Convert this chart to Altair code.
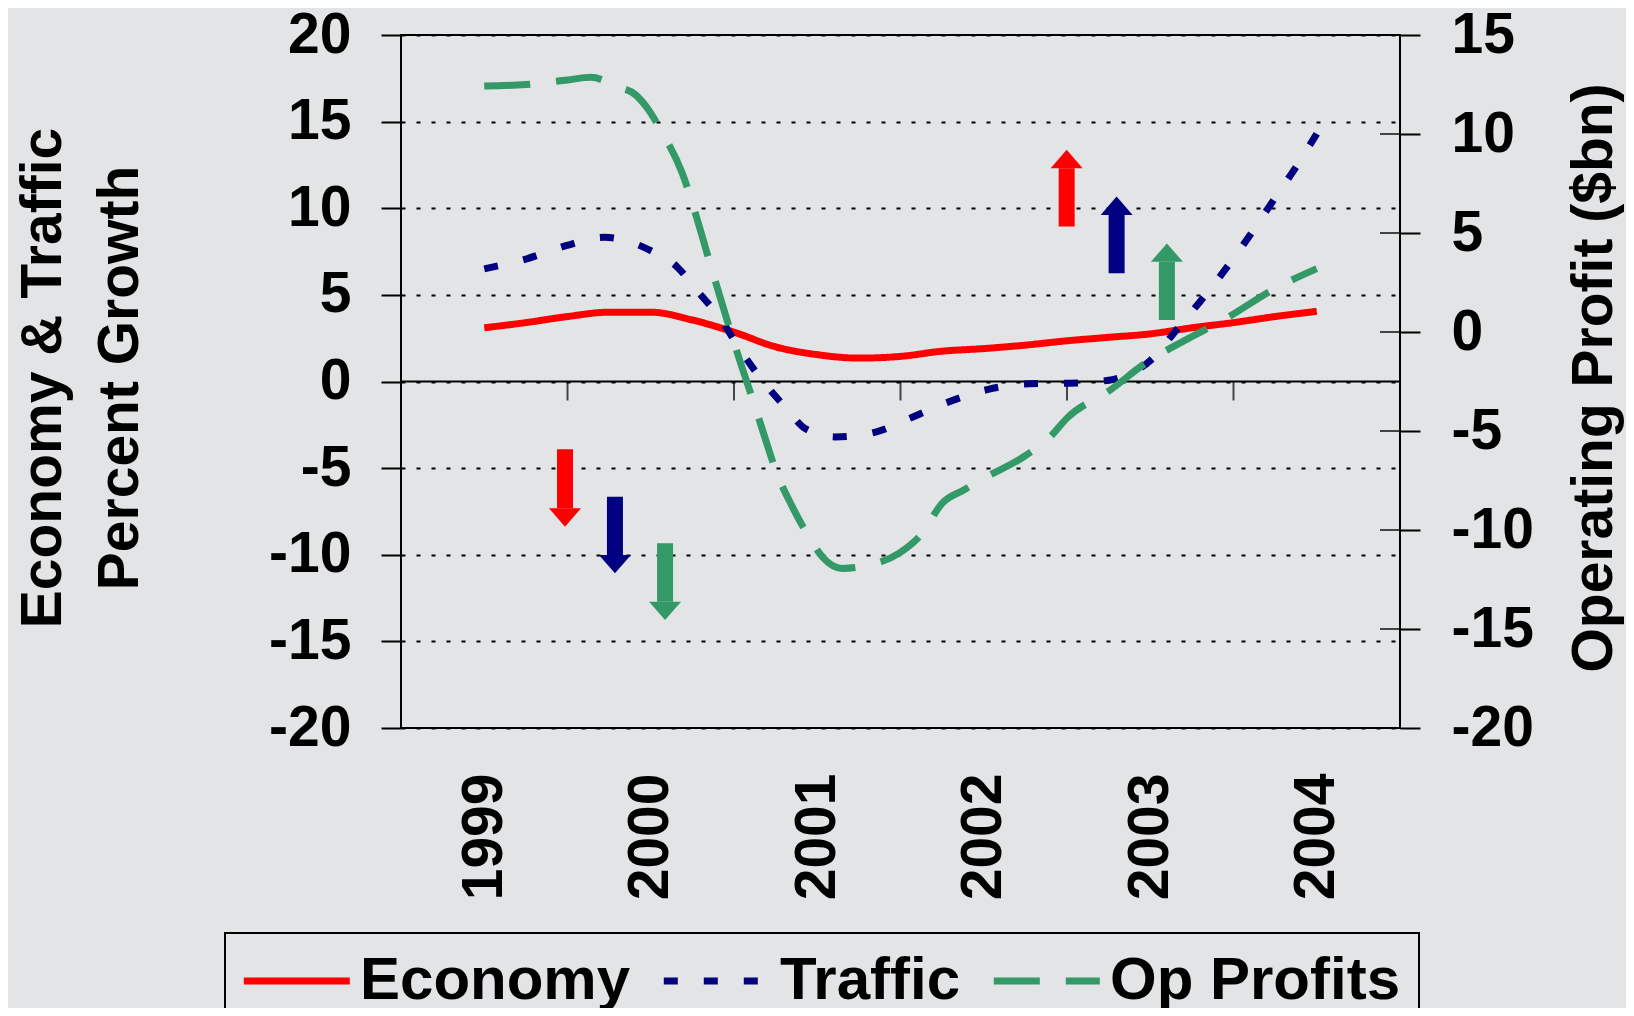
import altair as alt
import pandas as pd

# ---------------- data ----------------
ECON_YEARS = [1999.0, 1999.25, 1999.5, 1999.75, 2000.0, 2000.25, 2000.5, 2000.75,
              2001.0, 2001.25, 2001.5, 2001.75, 2002.0, 2002.25, 2002.5, 2002.75,
              2003.0, 2003.25, 2003.5, 2003.75, 2004.0]
ECONOMY = [3.1, 3.4, 3.75, 4.0, 4.0, 3.55, 2.85, 2.0, 1.55, 1.35, 1.45, 1.75,
           1.9, 2.1, 2.35, 2.55, 2.75, 3.1, 3.4, 3.75, 4.05]

TRAFFIC_YEARS = [1999.0, 1999.25, 1999.49, 1999.72, 1999.91, 2000.0, 2000.16, 2000.27,
                 2000.42, 2000.54, 2000.67, 2000.81, 2000.93, 2001.11, 2001.35, 2001.55,
                 2001.77, 2002.02, 2002.27, 2002.51, 2002.74, 2003.0, 2003.17, 2003.32,
                 2003.5, 2003.75, 2003.87, 2004.0]
TRAFFIC = [6.5, 7.07, 7.84, 8.32, 7.94, 7.55, 6.6, 5.34, 3.6, 1.79, 0.06, -1.5,
           -2.73, -3.2, -2.92, -2.15, -1.25, -0.47, -0.13, -0.1, 0.06, 1.21, 3.13,
           4.86, 7.1, 10.6, 12.3, 14.3]

PROFIT_YEARS = [1999.0, 1999.25, 1999.5, 1999.64, 1999.8, 1999.91, 1999.98, 2000.06,
                2000.19, 2000.28, 2000.35, 2000.44, 2000.54, 2000.62, 2000.69, 2000.75,
                2000.85, 2000.95, 2001.03, 2001.15, 2001.31, 2001.49, 2001.63, 2001.75,
                2001.88, 2002.0, 2002.24, 2002.4, 2002.5, 2002.76, 2002.97, 2003.23,
                2003.44, 2003.75, 2004.0]
OP_PROFITS = [12.42, 12.5, 12.73, 12.86, 12.39, 11.97, 11.3, 10.2, 8.0, 5.66, 3.64,
              1.11, -1.58, -3.6, -5.45, -6.97, -8.82, -10.34, -11.35, -11.94, -11.77,
              -11.18, -10.17, -8.65, -7.98, -7.39, -6.3, -5.29, -4.35, -2.93, -1.58,
              -0.32, 0.61, 2.2, 3.2]

SERIES = ["Economy", "Traffic", "Op Profits"]
COLORS = ["#ff0000", "#000080", "#339966"]
DASHES = [[1, 0], [14, 26], [46, 26]]

YEAR_LABELS = [1999, 2000, 2001, 2002, 2003, 2004]
X_TICKS = [1999.5, 2000.5, 2001.5, 2002.5, 2003.5]
LEFT_TICKS = [-20, -15, -10, -5, 0, 5, 10, 15, 20]
RIGHT_TICKS = [-20, -15, -10, -5, 0, 5, 10, 15]

# arrows (left-axis units): series, x, shaft start, head base, direction
ARROW_SERIES = ["Economy", "Traffic", "Op Profits", "Economy", "Traffic", "Op Profits"]
ARROW_X = [1999.485, 1999.785, 2000.086, 2002.498, 2002.798, 2003.10]
ARROW_START = [-3.91, -6.65, -9.34, 8.94, 6.25, 3.55]
ARROW_BASE = [-7.32, -10.01, -12.71, 12.31, 9.61, 6.91]
ARROW_DIR = ["down", "down", "down", "up", "up", "up"]

BG = "#e3e4e6"
FONT = "Liberation Sans"
FS = 57

# ---------------- tables ----------------
left_df = pd.DataFrame({
    "year": ECON_YEARS + TRAFFIC_YEARS,
    "value": ECONOMY + TRAFFIC,
    "series": ["Economy"] * len(ECON_YEARS) + ["Traffic"] * len(TRAFFIC_YEARS),
})
right_df = pd.DataFrame({"year": PROFIT_YEARS, "value": OP_PROFITS,
                         "series": ["Op Profits"] * len(PROFIT_YEARS)})
arrows_df = pd.DataFrame({"series": ARROW_SERIES, "x": ARROW_X,
                          "start": ARROW_START, "base": ARROW_BASE,
                          "dir": ARROW_DIR})

x_scale = alt.Scale(domain=[1998.5, 2004.5], nice=False, zero=False)
left_scale = alt.Scale(domain=[-20, 20], nice=False, zero=False)
right_scale = alt.Scale(domain=[-20, 15], nice=False, zero=False)
color_scale = alt.Scale(domain=SERIES, range=COLORS)
dash_scale = alt.Scale(domain=SERIES, range=DASHES)

legend = alt.Legend(
    orient="none", legendX=-176, legendY=898, direction="horizontal",
    columns=3, title=None, symbolType="M-1,0L4,0", symbolSize=1798,
    symbolStrokeWidth=7, symbolOffset=-8, labelFont=FONT, labelFontSize=60,
    labelFontWeight="bold", labelColor="black", labelOffset=65,
    columnPadding=18, padding=18, strokeColor="black", fillColor=BG,
    labelLimit=0,
)

x_axis = alt.Axis(
    values=YEAR_LABELS, labelExpr="'' + datum.value", labelAngle=270,
    labelFont=FONT, labelFontSize=FS, labelFontWeight="bold", labelColor="black",
    labelPadding=45, ticks=False, tickSize=0, domain=False, grid=False,
    title=None, labelFlush=False, labelOverlap=False,
)
left_axis = alt.Axis(
    values=LEFT_TICKS, labelExpr="'' + datum.value",
    labelFont=FONT, labelFontSize=FS, labelFontWeight="bold", labelColor="black",
    labelPadding=30, tickSize=20, tickWidth=2, tickColor="black",
    domain=False, grid=True, gridColor="black", gridDash=[4, 11], gridWidth=2,
    labelFlush=False, labelOverlap=False,
    title=["Economy & Traffic", "Percent Growth"], titleFont=FONT,
    titleFontSize=FS, titleFontWeight="bold", titleColor="black",
    titleAngle=270, titleX=-341, titleY=342.5, titleAlign="center",
    titleBaseline="alphabetic", titleLineHeight=77,
)
right_axis = alt.Axis(
    orient="right", values=RIGHT_TICKS, labelExpr="'' + datum.value",
    labelFont=FONT, labelFontSize=FS, labelFontWeight="bold", labelColor="black",
    labelPadding=31, tickSize=20, tickWidth=2, tickColor="black",
    domain=False, grid=False, labelFlush=False, labelOverlap=False,
    title="Operating Profit ($bn)", titleFont=FONT, titleFontSize=FS,
    titleFontWeight="bold", titleColor="black", titleAngle=270,
    titleX=211, titleY=342.5, titleAlign="center", titleBaseline="alphabetic",
)

X = lambda f: alt.X(f, scale=x_scale, axis=x_axis)
YL = lambda f: alt.Y(f, scale=left_scale, axis=left_axis)
YR = lambda f: alt.Y(f, scale=right_scale, axis=right_axis)

# ---------------- left group ----------------
zero_rule = alt.Chart(pd.DataFrame({"z": [0]})).mark_rule(
    color="black", strokeWidth=2
).encode(y=YL("z:Q"))

x_ticks = alt.Chart(pd.DataFrame({"year": X_TICKS, "z": [0] * len(X_TICKS)})).mark_tick(
    orient="vertical", size=19, thickness=2, color="black", yOffset=9.5
).encode(x=X("year:Q"), y=YL("z:Q"))

lines_left = alt.Chart(left_df).mark_line(
    interpolate="monotone", strokeWidth=7
).encode(
    x=X("year:Q"),
    y=YL("value:Q"),
    color=alt.Color("series:N", scale=color_scale, legend=legend),
    strokeDash=alt.StrokeDash("series:N", scale=dash_scale, legend=legend),
)

arrow_layers = []
for i in range(len(ARROW_X)):
    c = COLORS[SERIES.index(ARROW_SERIES[i])]
    row = arrows_df.iloc[[i]]
    path = "M-1,0L1,0L0,1.15Z" if ARROW_DIR[i] == "down" else "M-1,0L1,0L0,-1.15Z"
    shaft = alt.Chart(row).mark_rule(color=c, strokeWidth=16).encode(
        x=X("x:Q"), y=YL("start:Q"), y2="base:Q",
    )
    head = alt.Chart(row).mark_point(
        shape=path, size=1024, filled=True, opacity=1, color=c, strokeWidth=0
    ).encode(x=X("x:Q"), y=YL("base:Q"))
    arrow_layers += [shaft, head]

left_group = alt.layer(zero_rule, x_ticks, lines_left, *arrow_layers)

# ---------------- right group ----------------
inner_ticks = alt.Chart(pd.DataFrame({"v": RIGHT_TICKS})).mark_tick(
    orient="horizontal", size=20, thickness=2, color="black"
).encode(y=YR("v:Q"), x=alt.value(989))

line_right = alt.Chart(right_df).mark_line(
    interpolate="monotone", strokeWidth=7
).encode(
    x=X("year:Q"),
    y=YR("value:Q"),
    color=alt.Color("series:N", scale=color_scale, legend=legend),
    strokeDash=alt.StrokeDash("series:N", scale=dash_scale, legend=legend),
)
right_group = alt.layer(inner_ticks, line_right)

chart = alt.layer(left_group, right_group).resolve_scale(y="independent").properties(
    width=999, height=693, background=BG,
    padding={"left": 393, "top": 27, "right": 226, "bottom": 280},
    autosize=alt.AutoSizeParams(type="none"),
).configure_view(stroke="black", strokeWidth=2, fill=BG).configure_legend(
    strokeWidth=2
)

chart.save("out.html", embed_options={"renderer": "svg", "actions": False})
